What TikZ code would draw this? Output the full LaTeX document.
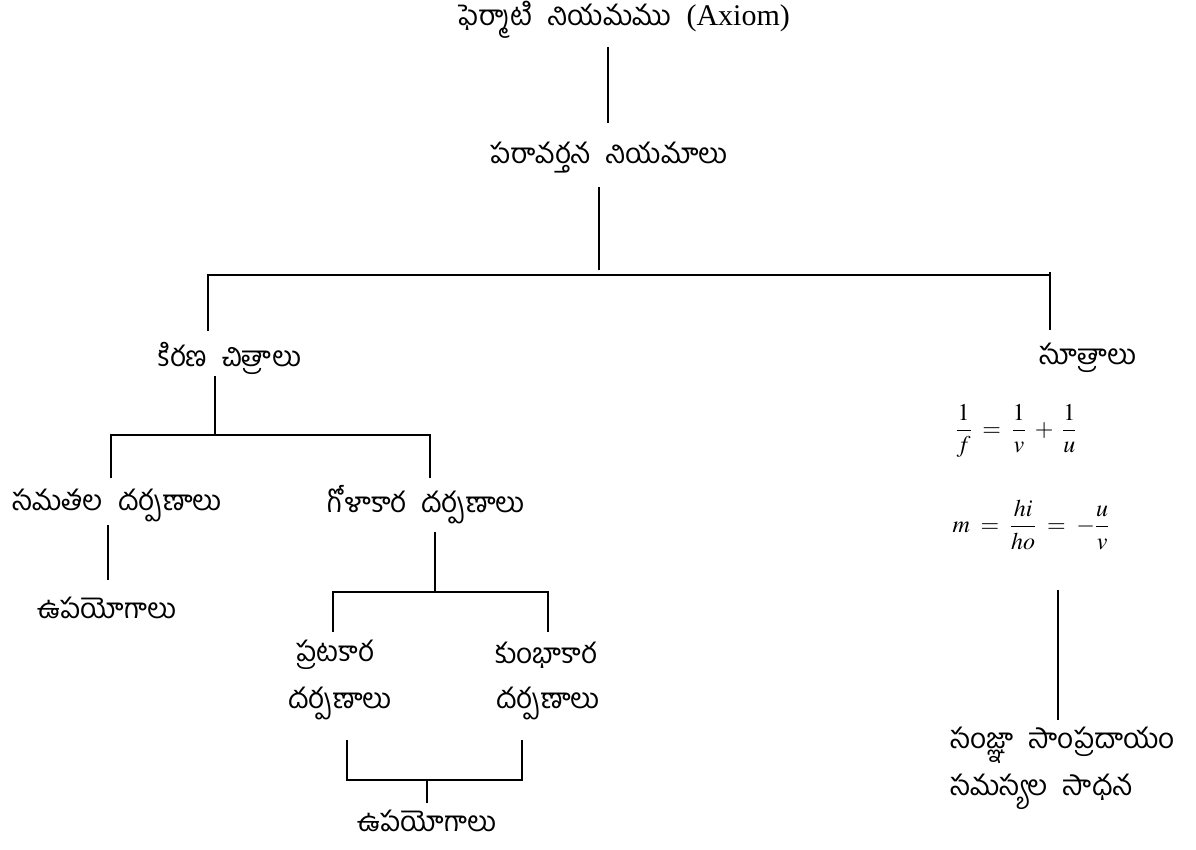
\documentclass[tikz,border=0pt]{standalone}
\usepackage{amsmath}
\usepackage{mathptmx}
\usepackage{fontspec}
\setmainfont{Liberation Serif}
\newfontfamily\te[Script=Telugu,WordSpace=2.2]{Hind Guntur}
\begin{document}
\begin{tikzpicture}[x=1pt,y=-1pt,
  lab/.style={inner sep=0pt,font=\te\fontsize{28}{34}\selectfont},
  frm/.style={inner sep=0pt,font=\fontsize{24}{29}\selectfont},
  ln/.style={line width=1.4pt}]
\useasboundingbox (0,0) rectangle (1196,850);
% nodes
\node[lab] (fer) at (624,20) {ఫెర్మాటి నియమము \rmfamily\fontsize{30}{36}\selectfont(Axiom)};
\node[lab] (par) at (609,158) {పరావర్తన నియమాలు};
\node[lab] (kir) at (230,358) {కిరణ చిత్రాలు};
\node[lab] (sut) at (1088,358) {సూత్రాలు};
\node[frm] (f1) at (1016,431) {$\dfrac{1}{f}\;=\;\dfrac{1}{v}\;+\;\dfrac{1}{u}$};
\node[frm] (f2) at (1031,525) {$m\;=\;\dfrac{hi}{ho}\;=\;-\dfrac{u}{v}$};
\node[lab] (sam) at (117,505) {సమతల దర్పణాలు};
\node[lab] (gol) at (426,505) {గోళాకార దర్పణాలు};
\node[lab] (upa1) at (107,608) {ఉపయోగాలు};
\node[lab] (pra) at (335,655) {ప్రటకార};
\node[lab] (kum) at (546,655) {కుంభాకార};
\node[lab] (dar1) at (340,703) {దర్పణాలు};
\node[lab] (dar2) at (548,703) {దర్పణాలు};
\node[lab] (upa2) at (427,821) {ఉపయోగాలు};
\node[lab,anchor=west] (san) at (950,745) {సంజ్ఞా సాంప్రదాయం};
\node[lab,anchor=west] (sad) at (950,792) {సమస్యల సాధన};
% junction coordinates
\coordinate (a1) at (608,47);  \coordinate (a2) at (608,123);
\coordinate (b1) at (599,187); \coordinate (b2) at (599,270);
\coordinate (h1) at (208,275); \coordinate (h2) at (1050,275);
\coordinate (kt) at (208,331); \coordinate (st) at (1050,330);
\coordinate (c1) at (215,376); \coordinate (c2) at (215,435);
\coordinate (d1) at (111,435); \coordinate (d2) at (430,435);
\coordinate (samt) at (111,478); \coordinate (golt) at (430,478);
\coordinate (e1) at (108,525); \coordinate (e2) at (108,580);
\coordinate (g1) at (435,532); \coordinate (g2) at (435,592);
\coordinate (i1) at (333,592); \coordinate (i2) at (548,592);
\coordinate (prat) at (333,632); \coordinate (kumt) at (548,632);
\coordinate (j1) at (347,740); \coordinate (j2) at (522,740);
\coordinate (k1) at (347,780); \coordinate (k2) at (522,780);
\coordinate (m1) at (427,780); \coordinate (m2) at (427,803);
\coordinate (n1) at (1058,590); \coordinate (n2) at (1058,720);
% connectors
\draw[ln] (a1) -- (a2);
\draw[ln] (b1) -- (b2);
\draw[ln] (kt) -- (h1) -- (h2) -- (st);
\draw[ln] (h2) -- ++(0,-3);
\draw[ln] (c1) -- (c2);
\draw[ln] (samt) -- (d1) -- (d2) -- (golt);
\draw[ln] (e1) -- (e2);
\draw[ln] (g1) -- (g2);
\draw[ln] (prat) -- (i1) -- (i2) -- (kumt);
\draw[ln] (j1) -- (k1) -- (k2) -- (j2);
\draw[ln] (m1) -- (m2);
\draw[ln] (n1) -- (n2);
\end{tikzpicture}
\end{document}
